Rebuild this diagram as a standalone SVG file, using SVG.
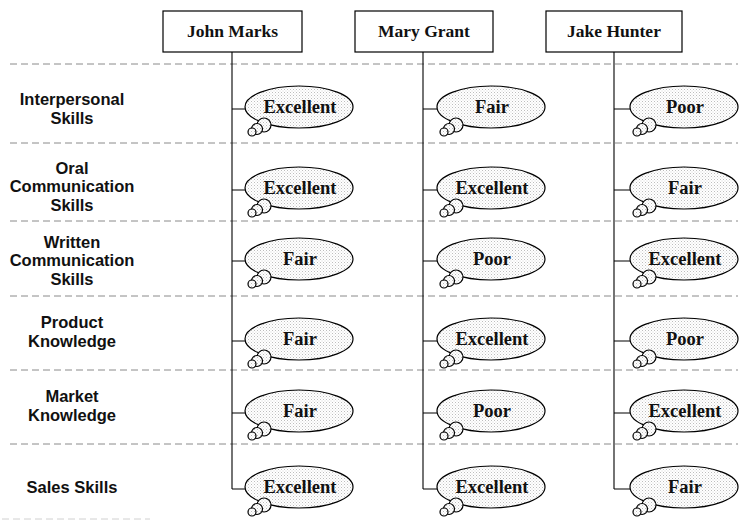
<svg xmlns="http://www.w3.org/2000/svg" width="741" height="523" viewBox="0 0 741 523">
<defs>
<pattern id="dots" width="3" height="3" patternUnits="userSpaceOnUse">
<rect width="3" height="3" fill="#ffffff"/>
<rect width="1" height="1" fill="#bdbdbd"/>
<rect x="1.5" y="1.5" width="1" height="1" fill="#d6d6d6"/>
</pattern>
<g id="bubble">
<ellipse cx="0" cy="0" rx="54" ry="21" class="b"/>
<circle cx="-35" cy="18" r="7" class="b"/>
<circle cx="-42" cy="22" r="5.5" class="b"/>
<circle cx="-47" cy="25" r="4" class="b"/>
</g>
</defs>
<style>
.b{fill:url(#dots);stroke:#000;stroke-width:1.2}
.box{fill:#fff;stroke:#000;stroke-width:1.2}
.hd{font-family:"Liberation Serif","Times New Roman",serif;font-weight:bold;font-size:17.5px;text-anchor:middle;fill:#111}
.rt{font-family:"Liberation Serif","Times New Roman",serif;font-weight:bold;font-size:18.5px;text-anchor:middle;fill:#111}
.lb{font-family:"Liberation Sans",Arial,sans-serif;font-weight:bold;font-size:16.5px;text-anchor:middle;fill:#111}
.sep{stroke:#8a8a8a;stroke-width:1;stroke-dasharray:7 4;fill:none}
.ln{stroke:#000;stroke-width:1.1;fill:none}
</style>
<rect width="741" height="523" fill="#fff"/>
<g id="separators">
<line class="sep" x1="10" y1="64" x2="738" y2="64"/>
<line class="sep" x1="10" y1="143" x2="738" y2="143"/>
<line class="sep" x1="10" y1="221" x2="738" y2="221"/>
<line class="sep" x1="10" y1="296" x2="738" y2="296"/>
<line class="sep" x1="10" y1="370" x2="738" y2="370"/>
<line class="sep" x1="10" y1="444" x2="738" y2="444"/>
<line class="sep" x1="2" y1="519" x2="150" y2="519" style="stroke:#d0d0d0"/>
</g>
<g id="connectors">
<line class="ln" x1="232" y1="52" x2="232" y2="489"/>
<line class="ln" x1="423" y1="52" x2="423" y2="489"/>
<line class="ln" x1="614" y1="52" x2="614" y2="489"/>
<path class="ln" d="M232 109H246M232 190H246M232 261H246M232 341H246M232 413H246M232 489H246"/>
<path class="ln" d="M423 109H438M423 190H438M423 261H438M423 341H438M423 413H438M423 489H438"/>
<path class="ln" d="M614 109H631M614 190H631M614 261H631M614 341H631M614 413H631M614 489H631"/>
</g>
<g id="h-john"><rect class="box" x="163" y="11" width="139" height="41"/><text class="hd" x="232.5" y="37">John Marks</text></g>
<g id="h-mary"><rect class="box" x="355" y="11" width="138" height="41"/><text class="hd" x="424" y="37">Mary Grant</text></g>
<g id="h-jake"><rect class="box" x="546" y="11" width="136" height="41"/><text class="hd" x="614" y="37">Jake Hunter</text></g>
<g id="l-1"><text class="lb" x="72" y="105"><tspan x="72">Interpersonal</tspan><tspan x="72" dy="18.5">Skills</tspan></text></g>
<g id="l-2"><text class="lb" x="72" y="173.5"><tspan x="72">Oral</tspan><tspan x="72" dy="18.5">Communication</tspan><tspan x="72" dy="18.5">Skills</tspan></text></g>
<g id="l-3"><text class="lb" x="72" y="247.5"><tspan x="72">Written</tspan><tspan x="72" dy="18.5">Communication</tspan><tspan x="72" dy="18.5">Skills</tspan></text></g>
<g id="l-4"><text class="lb" x="72" y="328"><tspan x="72">Product</tspan><tspan x="72" dy="18.5">Knowledge</tspan></text></g>
<g id="l-5"><text class="lb" x="72" y="402"><tspan x="72">Market</tspan><tspan x="72" dy="18.5">Knowledge</tspan></text></g>
<g id="l-6"><text class="lb" x="72" y="493">Sales Skills</text></g>
<g id="r1-john" transform="translate(299,107)"><use href="#bubble"/><text class="rt" x="1" y="6">Excellent</text></g>
<g id="r1-mary" transform="translate(491,107)"><use href="#bubble"/><text class="rt" x="1" y="6">Fair</text></g>
<g id="r1-jake" transform="translate(684,107)"><use href="#bubble"/><text class="rt" x="1" y="6">Poor</text></g>
<g id="r2-john" transform="translate(299,188)"><use href="#bubble"/><text class="rt" x="1" y="6">Excellent</text></g>
<g id="r2-mary" transform="translate(491,188)"><use href="#bubble"/><text class="rt" x="1" y="6">Excellent</text></g>
<g id="r2-jake" transform="translate(684,188)"><use href="#bubble"/><text class="rt" x="1" y="6">Fair</text></g>
<g id="r3-john" transform="translate(299,259)"><use href="#bubble"/><text class="rt" x="1" y="6">Fair</text></g>
<g id="r3-mary" transform="translate(491,259)"><use href="#bubble"/><text class="rt" x="1" y="6">Poor</text></g>
<g id="r3-jake" transform="translate(684,259)"><use href="#bubble"/><text class="rt" x="1" y="6">Excellent</text></g>
<g id="r4-john" transform="translate(299,339)"><use href="#bubble"/><text class="rt" x="1" y="6">Fair</text></g>
<g id="r4-mary" transform="translate(491,339)"><use href="#bubble"/><text class="rt" x="1" y="6">Excellent</text></g>
<g id="r4-jake" transform="translate(684,339)"><use href="#bubble"/><text class="rt" x="1" y="6">Poor</text></g>
<g id="r5-john" transform="translate(299,411)"><use href="#bubble"/><text class="rt" x="1" y="6">Fair</text></g>
<g id="r5-mary" transform="translate(491,411)"><use href="#bubble"/><text class="rt" x="1" y="6">Poor</text></g>
<g id="r5-jake" transform="translate(684,411)"><use href="#bubble"/><text class="rt" x="1" y="6">Excellent</text></g>
<g id="r6-john" transform="translate(299,487)"><use href="#bubble"/><text class="rt" x="1" y="6">Excellent</text></g>
<g id="r6-mary" transform="translate(491,487)"><use href="#bubble"/><text class="rt" x="1" y="6">Excellent</text></g>
<g id="r6-jake" transform="translate(684,487)"><use href="#bubble"/><text class="rt" x="1" y="6">Fair</text></g>
</svg>
